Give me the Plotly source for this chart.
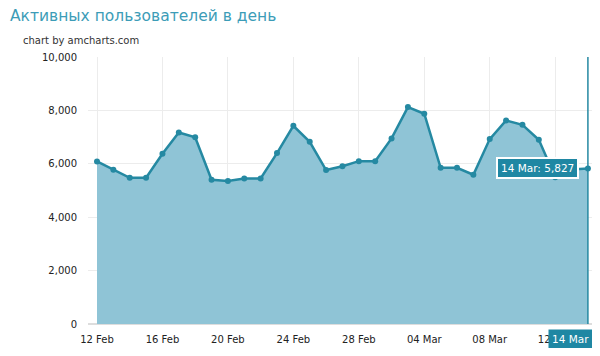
import plotly.graph_objects as go
import pandas as pd

dates = pd.date_range("2014-02-12", "2014-03-14", freq="D")
users = [6090, 5775, 5475, 5475, 6375, 7175, 6990, 5400, 5360, 5450, 5450,
         6400, 7425, 6825, 5765, 5910, 6100, 6100, 6950, 8125, 7875, 5850,
         5850, 5590, 6925, 7625, 7460, 6900, 5500, 5790, 5827]
y_ticks = [0, 2000, 4000, 6000, 8000, 10000]

title_text = "Активных пользователей в день"
credit_text = "chart by amcharts.com"

teal = "#2589a2"
fill = "#8fc4d6"
font = "DejaVu Sans"

# page body has an 8px margin; keep the figure inside the window (no scrollbars)
W, H = 584, 340
L, R, T, B = 80, 0, 49, 24

fig = go.Figure()
fig.add_trace(go.Scatter(
    x=dates, y=users, mode="lines+markers", fill="tozeroy",
    fillcolor=fill, line=dict(color=teal, width=2.5),
    marker=dict(color=teal, size=6), hoverinfo="skip", showlegend=False))

last_x = dates[-1]
last_y = users[-1]
day = pd.Timedelta(days=1)

fig.add_shape(type="line", xref="x", yref="paper", x0=last_x, x1=last_x,
              y0=0, y1=1, line=dict(color=teal, width=1.5))

fig.add_annotation(x=last_x, y=last_y, xref="x", yref="y",
                   text=f"{last_x.strftime('%d %b')}: {last_y:,}",
                   showarrow=False, xanchor="right", xshift=-9,
                   bgcolor="#1f87a3", bordercolor="white", borderwidth=2,
                   borderpad=3, font=dict(family=font, size=10.5, color="white"))

fig.add_annotation(x=last_x, y=0, xref="x", yref="paper",
                   text=last_x.strftime('%d %b'), showarrow=False,
                   xanchor="center", yanchor="top", xshift=-17, yshift=-5,
                   bgcolor="#1f87a3", borderpad=3,
                   font=dict(family=font, size=10.5, color="white"))

pw, ph = W - L - R, H - T - B
fig.add_annotation(x=(13 - L) / pw, y=1 + (T - 32) / ph, xref="paper",
                   yref="paper", text=credit_text,
                   showarrow=False, xanchor="left", yanchor="middle",
                   font=dict(family=font, size=10, color="#333333"))

fig.update_layout(
    width=W, height=H,
    margin=dict(l=L, r=R, t=T, b=B, pad=0),
    paper_bgcolor="white", plot_bgcolor="white",
    title=dict(text=title_text, x=2 / W, xanchor="left", xref="container",
               y=1 - 8 / H, yref="container", yanchor="middle",
               font=dict(family=font, size=15.5, color="#3c9cb7")),
    xaxis=dict(type="date", range=[dates[0] - 0.55 * day, last_x + 0.25 * day],
               tick0=dates[0], dtick=4 * 86400000, tickformat="%d %b",
               showgrid=True, gridcolor="#ececec", zeroline=False,
               showline=False, ticks="", ticklabelstandoff=8,
               tickfont=dict(family=font, size=10, color="#222222")),
    yaxis=dict(range=[0, 10000], tickvals=y_ticks, tickformat=",",
               showgrid=True, gridcolor="#ececec", zeroline=True,
               zerolinecolor="#dddddd", ticks="", ticklabelstandoff=10,
               tickfont=dict(family=font, size=10, color="#222222")),
)

fig.write_html("out.html")
